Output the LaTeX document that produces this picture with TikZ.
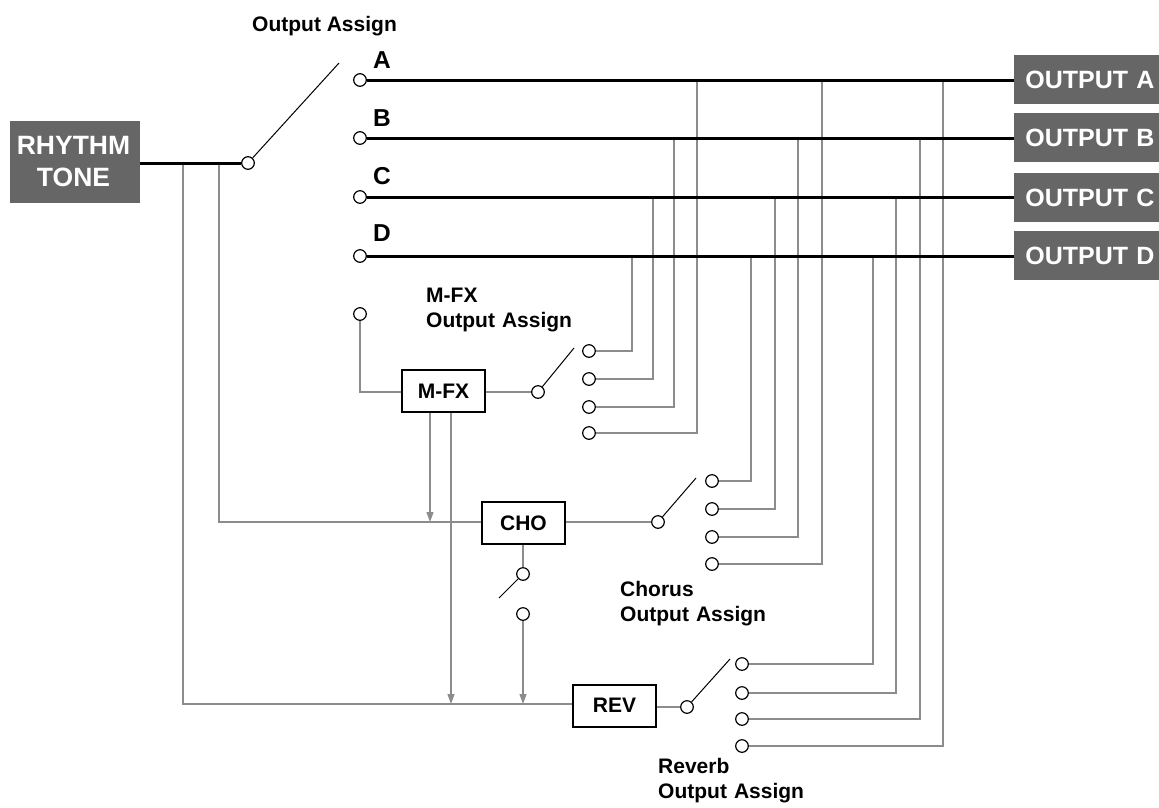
\documentclass[tikz,border=0pt]{standalone}
\usepackage{fontspec}
\setmainfont{Liberation Sans}
\definecolor{boxgray}{HTML}{666666}
\definecolor{sig}{HTML}{8C8C8C}
\usetikzlibrary{arrows.meta,backgrounds}
\tikzset{x=1pt,y=-1pt,
 fillbox/.style={fill=boxgray,text=white,inner sep=0pt,align=center,anchor=center},
 outbox/.style={fillbox,minimum width=145pt,minimum height=49pt,font=\fontsize{25}{30}\selectfont\bfseries,text width=136pt,align=right},
 fxbox/.style={draw=black,line width=2pt,fill=white,minimum width=83pt,minimum height=42pt,inner sep=0pt,font=\fontsize{21}{25}\selectfont\bfseries},
 term/.style={circle,draw=black,line width=1.2pt,fill=white,minimum size=12.6pt,inner sep=0pt},
 bus/.style={line width=3pt,black},
 thin sig/.style={line width=1.15pt,sig},
 arm/.style={line width=1pt,black},
 lab/.style={font=\fontsize{21}{25}\selectfont\bfseries,inner sep=0pt,align=left,anchor=north west},
 letter/.style={font=\fontsize{24.5}{29}\selectfont\bfseries,inner sep=0pt,anchor=base west},
 flow/.style={thin sig,-{Triangle[length=10pt,width=7pt]}}
}
\begin{document}
\begin{tikzpicture}
\useasboundingbox (0,0) rectangle (1159,807);
% boxes
\node[fillbox,minimum width=130pt,minimum height=82pt,font=\fontsize{26.5}{32}\selectfont\bfseries] (rt) at (75,162) {\hspace*{-3pt}RHYTHM\\\hspace*{-3pt}TONE};
\node[outbox] (oa) at (1086.5,79.5) {OUTPUT A};
\node[outbox] (ob) at (1086.5,137.5) {OUTPUT B};
\node[outbox] (oc) at (1086.5,197.5) {OUTPUT C};
\node[outbox] (od) at (1086.5,255.5) {OUTPUT D};
\node[fxbox] (mfx) at (443.5,391) {M-FX};
\node[fxbox] (cho) at (523.5,523) {CHO};
\node[fxbox] (rev) at (614.5,705.5) {REV};
% terminals
\node[term] (sw) at (248,163) {};
\node[term] (a) at (360,80) {};
\node[term] (b) at (360,138) {};
\node[term] (c) at (360,197) {};
\node[term] (d) at (360,256) {};
\node[term] (e) at (360,314) {};
\node[term] (mfxsw) at (538,392) {};
\node[term] (m1) at (589,351) {};
\node[term] (m2) at (589,379) {};
\node[term] (m3) at (589,407) {};
\node[term] (m4) at (589,433) {};
\node[term] (chsw) at (658,522) {};
\node[term] (c1) at (712,481) {};
\node[term] (c2) at (712,509) {};
\node[term] (c3) at (712,537) {};
\node[term] (c4) at (712,564) {};
\node[term] (chrev) at (523,574) {};
\node[term] (chrevb) at (523,614) {};
\node[term] (rsw) at (687,707) {};
\node[term] (r1) at (742,664) {};
\node[term] (r2) at (742,693) {};
\node[term] (r3) at (742,719) {};
\node[term] (r4) at (742,746) {};
% free ends
\coordinate (armT) at (339,63);
\coordinate (armM) at (574,348);
\coordinate (armC) at (696,478);
\coordinate (armCR) at (499,598);
\coordinate (armR) at (730,659);
\begin{scope}[on background layer]
% thin signal lines
\draw[thin sig] (183,163) -- (183,704) -- (rev.west |- 0,704);
\draw[thin sig] (219,163) -- (219,522) -- (cho.west |- 0,522);
\draw[thin sig] (e) -- (360,392) -- (mfx.west |- 0,392);
\draw[thin sig] (mfx.east |- mfxsw) -- (mfxsw);
\draw[thin sig] (cho.east |- chsw) -- (chsw);
\draw[thin sig] (rev.east |- rsw) -- (rsw);
\draw[thin sig] (cho.south -| chrev) -- (chrev);
\draw[flow] (mfx.south -| 430,0) -- (430,522);
\draw[flow] (mfx.south -| 451,0) -- (451,704);
\draw[flow] (chrevb) -- (523,704);
\draw[thin sig] (m1) -- (632,351) -- (632,256);
\draw[thin sig] (m2) -- (653,379) -- (653,197);
\draw[thin sig] (m3) -- (674,407) -- (674,138);
\draw[thin sig] (m4) -- (697,433) -- (697,80);
\draw[thin sig] (c1) -- (751,481) -- (751,256);
\draw[thin sig] (c2) -- (775,509) -- (775,197);
\draw[thin sig] (c3) -- (798,537) -- (798,138);
\draw[thin sig] (c4) -- (822,564) -- (822,80);
\draw[thin sig] (r1) -- (873,664) -- (873,256);
\draw[thin sig] (r2) -- (896,693) -- (896,197);
\draw[thin sig] (r3) -- (920,719) -- (920,138);
\draw[thin sig] (r4) -- (943,746) -- (943,80);
% buses
\draw[bus] (rt.east |- sw) -- (sw);
\draw[bus] (a) -- (a -| oa.west);
\draw[bus] (b) -- (b -| ob.west);
\draw[bus] (c) -- (c -| oc.west);
\draw[bus] (d) -- (d -| od.west);
% arms
\draw[arm] (sw) -- (armT);
\draw[arm] (mfxsw) -- (armM);
\draw[arm] (chsw) -- (armC);
\draw[arm] (chrev) -- (armCR);
\draw[arm] (rsw) -- (armR);
\end{scope}
% labels
\node[letter] (la) at (373,68) {A};
\node[letter] (lb) at (373,126) {B};
\node[letter] (lc) at (373,184) {C};
\node[letter] (ld) at (373,241) {D};
\node[lab] (l1) at (252,16) {Output Assign};
\node[lab,text width=160pt] (l2) at (426,288) {M-FX\\Output Assign};
\node[lab,text width=160pt] (l3) at (620,581) {Chorus\\Output Assign};
\node[lab,text width=160pt] (l4) at (658,758) {Reverb\\Output Assign};
\end{tikzpicture}
\end{document}
